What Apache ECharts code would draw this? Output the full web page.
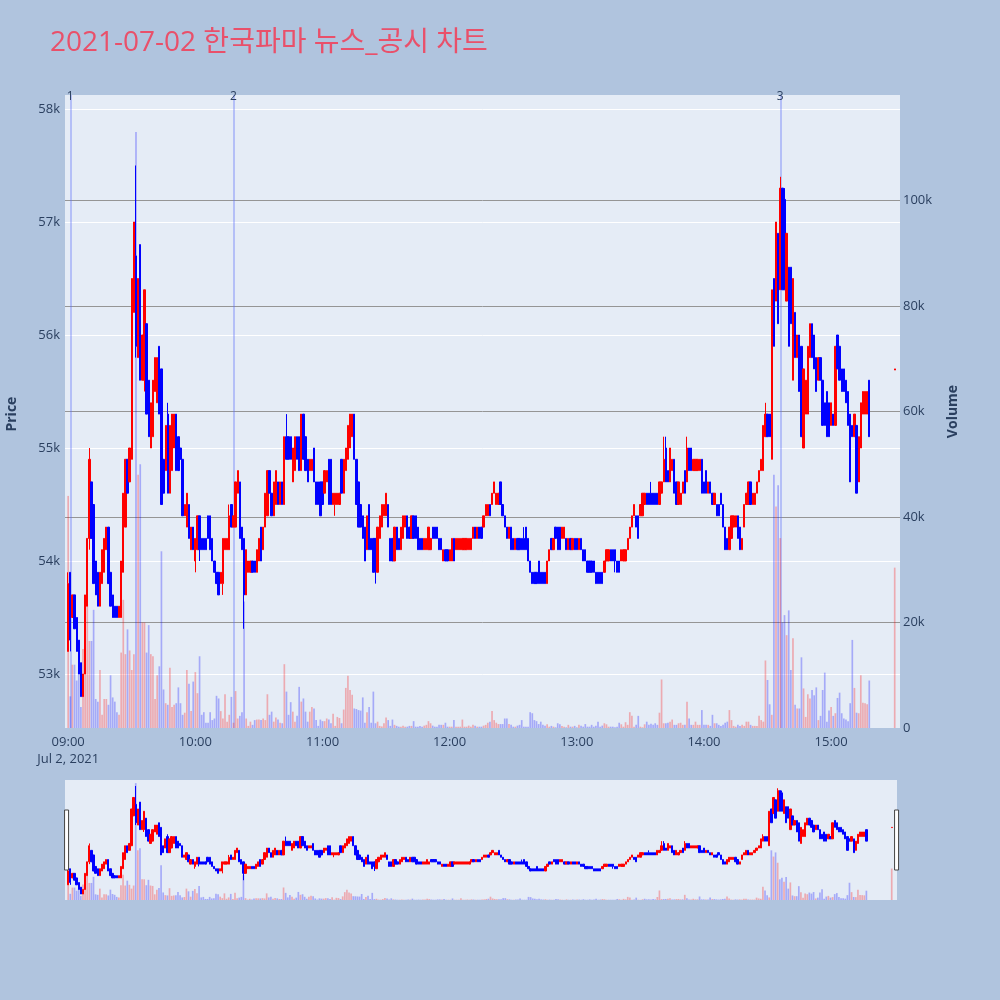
<!DOCTYPE html>
<html>
<head>
<meta charset="utf-8">
<title>2021-07-02 한국파마 뉴스_공시 차트</title>
<script src="https://cdn.jsdelivr.net/npm/echarts@6.0.0/dist/echarts.min.js"></script>
<style>
  html, body { margin: 0; padding: 0; background: #b0c4de; }
  #chart { width: 1000px; height: 1000px; }
</style>
</head>
<body>
<div id="chart"></div>
<script>
// one entry per minute from 09:00, prices in units of 100 KRW (null = no trade)
var opens = [
  532,539,535,537,535,533,531,528,530,536, 542,547,545,540,539,536,538,539,541,543,
  539,537,536,536,535,535,539,543,549,547, 549,562,567,558,568,556,556,561,556,550,
  551,555,554,559,557,549,548,553,546,548, 550,553,551,550,549,544,543,545,541,543,
  540,541,544,542,542,542,544,544,542,540, 539,539,538,538,541,541,541,545,543,543,
  546,547,543,542,537,539,539,540,540,539, 540,543,541,543,544,548,546,544,545,547,
  545,547,545,551,551,551,547,548,551,551, 548,553,551,549,548,548,550,547,547,547,
  547,546,547,549,549,545,545,545,545,549, 546,548,549,550,551,553,549,547,545,544,
  543,541,545,542,542,542,539,542,543,544, 544,545,542,542,540,543,542,541,542,543,
  544,543,542,544,544,543,542,542,541,541, 541,541,543,543,543,542,542,540,541,541,
  540,540,542,541,541,541,541,541,541,541, 541,542,543,542,543,543,543,544,544,545,
  545,546,545,545,547,545,544,543,542,543, 542,541,542,542,542,542,543,542,540,539,
  539,539,540,539,539,539,538,540,542,541, 543,543,543,542,542,542,541,542,541,542,
  542,541,542,541,541,540,540,540,540,539, 539,539,539,539,540,540,541,541,541,540,
  540,540,540,540,541,542,543,544,544,544, 544,544,545,546,546,546,546,546,546,545,
  546,547,550,548,547,548,549,547,545,545, 546,548,547,550,550,548,548,548,548,549,
  547,548,546,547,546,545,545,545,546,545, 543,542,541,542,543,543,544,543,541,543,
  545,545,547,545,545,546,547,548,548,551, 553,553,549,565,563,569,564,573,572,563,
  566,566,556,562,558,560,559,550,553,553, 558,561,560,558,556,558,556,554,555,554,
  552,553,552,560,559,557,557,556,555,553, 552,551,552,547,550,553,553,553,556,
  null,null,null,null,null,null,null,null,null,null,null,
  556.9
];
var closes = [
  538,533,537,534,532,530,528,530,537,542, 549,542,538,537,536,539,541,542,543,538,
  536,535,535,535,536,540,546,549,546,550, 565,570,559,565,556,560,564,553,551,554,
  556,558,558,553,545,546,552,546,552,553, 553,548,548,549,544,545,546,542,543,541,
  542,544,541,541,541,541,542,541,540,539, 538,537,539,542,542,542,544,543,544,547,
  548,542,541,537,541,540,540,539,539,541, 542,540,543,546,548,546,544,547,548,545,
  547,545,551,549,549,549,550,551,549,548, 553,549,548,547,549,549,547,545,545,544,
  545,548,548,545,545,546,546,546,546,546, 549,550,552,553,553,549,545,543,543,542,
  540,544,541,541,539,540,543,544,545,545, 546,543,540,540,543,541,541,543,544,544,
  542,542,544,542,542,541,541,541,542,542, 543,542,542,542,542,541,541,541,540,540,
  541,542,540,542,542,542,542,542,542,542, 542,543,542,543,542,542,544,545,545,544,
  546,547,546,546,545,544,543,542,543,541, 541,542,541,541,541,541,541,540,539,538,
  538,538,538,538,538,538,540,541,541,542, 542,541,541,543,543,541,542,541,542,541,
  541,542,541,540,540,539,539,539,539,538, 538,538,538,540,541,541,540,540,540,539,
  539,541,541,541,542,543,544,545,543,542, 545,546,546,545,545,545,545,545,545,547,
  547,549,547,547,550,549,546,545,547,546, 547,546,550,548,548,549,549,549,549,546,
  546,546,547,546,545,546,544,544,545,543, 541,541,543,544,544,544,542,541,542,545,
  546,547,545,546,546,547,548,549,552,553, 551,551,564,559,570,561,573,564,564,569,
  559,561,565,558,560,555,551,557,556,559, 561,558,557,555,558,556,552,552,551,551,
  554,552,559,557,556,555,555,554,552,547, 551,553,546,551,554,555,555,555,551,
  null,null,null,null,null,null,null,null,null,null,null,
  557
];
var lows = [
  532,532,535,534,532,530,528,528,530,536, 541,542,538,537,536,536,538,539,541,538,
  536,535,535,535,535,535,539,543,546,547, 549,562,558,558,556,556,555,553,551,550,
  551,555,554,553,545,546,548,546,546,548, 550,548,548,549,544,544,543,542,541,541,
  539,541,540,541,541,541,542,541,540,539, 538,537,538,537,541,541,541,543,543,543,
  546,542,541,534,537,539,539,539,539,539, 540,540,541,543,544,546,544,544,545,545,
  545,545,545,549,549,549,547,548,549,548, 548,549,548,547,548,548,547,545,545,544,
  545,546,547,545,545,545,544,545,545,546, 546,548,549,550,551,549,545,543,543,542,
  540,541,541,541,539,538,539,542,543,544, 544,543,540,540,540,541,541,541,542,543,
  542,542,542,542,542,541,541,541,541,541, 541,541,542,542,542,541,541,540,540,540,
  540,540,540,541,541,541,541,541,541,541, 541,542,542,542,542,542,543,544,544,544,
  545,546,545,545,545,544,543,542,542,541, 541,541,541,541,541,541,541,540,539,538,
  538,538,538,538,538,538,538,540,541,541, 542,541,541,542,542,541,541,541,541,541,
  541,541,541,540,540,539,539,539,539,538, 538,538,538,539,540,540,540,540,539,539,
  539,540,540,540,541,542,543,544,543,542, 544,544,545,545,545,545,545,545,545,545,
  546,547,547,547,547,548,546,545,545,545, 546,546,547,548,548,548,548,548,548,546,
  546,546,546,546,545,545,544,544,545,543, 541,541,541,542,543,543,542,541,541,543,
  545,545,545,545,545,546,547,548,548,551, 551,551,549,559,563,561,564,564,564,563,
  559,561,556,558,558,555,551,550,553,553, 558,558,557,555,556,556,552,552,551,551,
  552,552,552,557,556,555,555,554,552,547, 551,551,546,547,550,553,553,553,551,
  null,null,null,null,null,null,null,null,null,null,null,
  556.9
];
var highs = [
  539,539,537,537,535,533,531,530,537,542, 550,547,545,540,539,539,541,542,543,543,
  539,537,536,536,536,540,546,549,549,550, 565,570,575,565,568,560,564,561,556,554,
  556,558,558,559,557,549,552,554,552,553, 553,553,551,550,549,545,546,545,543,543,
  542,544,544,542,542,542,544,544,542,540, 539,539,539,542,542,542,545,545,544,547,
  548,547,543,542,541,540,540,540,540,541, 542,543,543,546,548,548,546,547,548,547,
  547,547,551,553,551,551,550,551,551,551, 553,553,551,549,549,549,550,547,547,547,
  547,548,548,549,549,546,546,546,546,549, 549,550,552,553,553,553,549,547,545,544,
  543,544,545,542,542,542,543,544,545,545, 546,545,542,542,543,543,542,543,544,544,
  544,543,544,544,544,543,542,542,542,542, 543,542,543,543,543,542,542,541,541,541,
  541,542,542,542,542,542,542,542,542,542, 542,543,543,543,543,543,544,545,545,545,
  546,547,546,546,547,545,544,543,543,543, 542,542,542,542,542,543,543,542,540,539,
  539,539,540,539,539,539,540,541,542,542, 543,543,543,543,543,542,542,542,542,542,
  542,542,542,541,541,540,540,540,540,539, 539,539,539,540,541,541,541,541,541,540,
  540,541,541,541,542,543,544,545,544,544, 545,546,546,546,546,547,546,546,546,547,
  547,551,551,548,550,549,549,547,547,546, 547,548,551,550,550,549,549,549,549,549,
  547,548,547,547,546,546,545,545,546,545, 543,542,543,544,544,544,544,543,542,545,
  546,547,547,546,546,547,548,549,552,554, 553,553,564,565,570,569,574,573,573,569,
  566,566,565,562,560,560,559,557,556,559, 561,561,560,558,558,558,556,554,555,554,
  554,553,559,560,559,557,557,556,555,553, 552,553,552,551,554,555,555,555,556,
  null,null,null,null,null,null,null,null,null,null,null,
  557
];
// traded volume per minute, thousand shares
var volumes = [
  44,6,12,12,9,10.6,4,15,16,23.5, 16.5,16.5,22.4,5.5,5,11,2.5,5.5,5.5,4.4,
  10,5.8,5,3,2.5,14.3,24.3,14,18.7,14.7, 11,14,113,48,50,20,20,14.3,19.5,14,
  13.6,5.5,10,11.7,33.5,7.3,4.7,4.4,11.4,4, 4.4,4.7,7.7,4.7,2.5,2.9,11,8.4,3.2,8.8,
  10.6,6.6,13.6,2.5,3,1,1,3,1.5,1.8, 6.1,5.6,3.2,1.8,6.4,1.2,2.5,5.9,1,7,
  1.8,2.3,3,24,1.8,0.4,1.2,0.6,1.5,1.6, 1.6,1.5,1.8,1.5,6.4,2.5,3.1,1.2,2,1.6,
  1,0.9,12.1,6.9,2.5,4.9,3.1,1.2,2.3,7.8, 5,5.6,3.1,1.2,3.1,4,3.7,1.5,0.4,1.6,
  1.3,1.3,1.8,1.6,0.9,2.7,0.4,2.1,1.9,0.9, 3.5,7.6,9.9,7.2,6.3,3.7,3.6,3.4,3.3,5.8,
  1,3,4,1,6.9,0.9,1.2,0.4,0.3,0.9, 2,1.5,0.4,1.6,0.6,0.4,0.25,0.25,0.45,0.25,
  0.25,0.4,0.4,1.3,0.25,0.25,0.4,0.25,0.45,0.6, 1.3,0.9,0.45,0.25,0.25,0.6,0.6,0.6,1.0,0.25,
  0.25,0.25,1.5,0.25,0.25,0.25,1.6,0.25,0.25,0.45, 0.25,0.6,0.45,0.25,0.25,0.25,0.45,0.6,1.0,1.2,
  3.2,1.5,1.0,0.75,0.75,0.75,1.8,1.8,0.75,0.6, 0.25,0.25,0.45,0.6,1.5,0.25,0.25,0.25,3,2.8,
  1.5,1.3,0.75,1.2,0.6,0.45,0.7,0.25,0.4,0.25, 0.13,0.9,0.7,0.4,0.25,0.13,0.6,0.25,0.25,0.4,
  0.13,0.6,0.45,0.25,0.75,0.25,0.25,0.6,0.25,0.45, 1.2,0.25,0.45,0.9,0.7,0.25,0.25,0.25,0.13,0.25,
  1.0,0.7,0.25,1.1,0.6,3,2.3,0.25,0.6,2.3, 0.25,0.13,0.7,1.2,0.6,0.8,0.6,0.9,0.6,2.9,
  9.2,0.9,0.9,1,1.2,1.6,0.6,0.6,0.9,1, 0.6,0.6,5,1.8,0.6,0.6,1.2,0.6,0.6,3.4,
  0.6,0.6,0.6,0.4,2.5,0.9,0.9,0.6,0.4,0.6, 1,1.2,3.4,1.5,0.4,0.25,0.6,0.4,0.6,0.4,
  1.2,1.2,0.6,0.4,0.4,0.4,2.3,1.5,1.2,12.8, 9.1,4.5,2.5,48,42,46,36,20,21.4,17.6,
  22.3,11,17,4.4,3.7,3.7,13.4,7.5,2.1,6.4, 5.6,7.2,6.2,7.7,1.5,2.3,7.2,10.5,1.2,3.3,
  4,2.3,2.8,5.7,6.7,2.8,1.8,1.6,1.3,4.7, 16.7,7.6,2.9,2.8,10,4.8,4.7,4.5,9,
  null,null,null,null,null,null,null,null,null,null,null,
  30.4
];
// news / disclosure markers
var newsTimes = ['09:01', '10:18', '14:36'];
var newsLabels = ['1', '2', '3'];

var UP = '#ff0000', DOWN = '#0000ff';
var UP_VOL = 'rgba(255,0,0,0.28)', DOWN_VOL = 'rgba(0,0,255,0.28)';
var FONT = '"Open Sans", "Noto Sans CJK KR", sans-serif';
var TEXT = '#2a3f5f';

function pad(n) { return (n < 10 ? '0' : '') + n; }

var categories = [];
for (var t = 8 * 60 + 59; t <= 15 * 60 + 32; t++) {
  categories.push(pad(Math.floor(t / 60)) + ':' + pad(t % 60));
}
var first = categories.indexOf('09:00');

var candleData = [], volumeData = [];
for (var i = 0; i < categories.length; i++) {
  var m = i - first;
  if (m < 0 || m >= opens.length || opens[m] == null) {
    candleData.push('-');
    volumeData.push('-');
    continue;
  }
  var up = closes[m] >= opens[m];
  candleData.push([opens[m] * 100, closes[m] * 100, lows[m] * 100, highs[m] * 100]);
  volumeData.push({ value: volumes[m] * 1000, itemStyle: { color: up ? UP_VOL : DOWN_VOL } });
}

var myChart = echarts.init(document.getElementById('chart'));

var option = {
  animation: false,
  backgroundColor: '#b0c4de',
  title: {
    text: '2021-07-02 한국파마 뉴스_공시 차트',
    left: 50,
    top: 29,
    padding: 0,
    textStyle: { fontSize: 28, fontWeight: 'normal', color: '#e9506a', fontFamily: FONT }
  },
  grid: [
    // price
    { left: 65, right: 100, top: 97.7, bottom: 269.5, outerBoundsMode: 'none' },
    // volume + plot background
    { left: 65, right: 100, top: 95, bottom: 272, show: true, backgroundColor: '#e5ecf6',
      borderWidth: 0, outerBoundsMode: 'none' },
    // range slider preview
    { left: 65, right: 103, top: 780, height: 120, show: true, backgroundColor: '#e5ecf6',
      borderWidth: 0, outerBoundsMode: 'none' }
  ],
  xAxis: [
    { type: 'category', gridIndex: 0, data: categories, show: false },
    {
      type: 'category', gridIndex: 1, data: categories,
      axisLine: { show: false }, axisTick: { show: false }, splitLine: { show: false },
      axisLabel: {
        color: TEXT, fontSize: 13, fontFamily: FONT, margin: 6, lineHeight: 17,
        interval: function (index, value) {
          return /:00$/.test(value) && value >= '09:00' && value <= '15:00';
        },
        formatter: function (value) {
          return value === '09:00' ? value + '\nJul 2, 2021' : value;
        }
      }
    },
    { type: 'category', gridIndex: 2, data: categories, show: false }
  ],
  yAxis: [
    {
      type: 'value', gridIndex: 0, position: 'left',
      min: 52500, max: 58100, interval: 500,
      name: 'Price', nameLocation: 'middle', nameGap: 46,
      nameTextStyle: { color: TEXT, fontSize: 14, fontWeight: 'bold', fontFamily: FONT },
      axisLine: { show: false }, axisTick: { show: false },
      axisLabel: {
        color: TEXT, fontSize: 13, fontFamily: FONT, margin: 5,
        formatter: function (v) { return v % 1000 === 0 ? (v / 1000) + 'k' : ''; }
      },
      splitLine: { show: true, lineStyle: { color: ['rgba(0,0,0,0)', '#ffffff'], width: 1 } }
    },
    {
      type: 'value', gridIndex: 1, position: 'right',
      min: 0, max: 120000, interval: 20000,
      name: 'Volume', nameLocation: 'middle', nameGap: 46,
      nameTextStyle: { color: TEXT, fontSize: 14, fontWeight: 'bold', fontFamily: FONT },
      axisLine: { show: false }, axisTick: { show: false },
      axisLabel: {
        color: TEXT, fontSize: 13, fontFamily: FONT, margin: 3,
        formatter: function (v) { return v === 0 ? '0' : (v >= 120000 ? '' : (v / 1000) + 'k'); }
      },
      splitLine: {
        show: true,
        lineStyle: {
          color: ['rgba(0,0,0,0)', '#959595', '#959595', '#959595', '#959595', '#959595', 'rgba(0,0,0,0)'],
          width: 1
        }
      }
    },
    { type: 'value', gridIndex: 2, min: 52540, max: 57760, show: false },
    { type: 'value', gridIndex: 2, min: 0, max: 116000, show: false }
  ],
  dataZoom: [{
    type: 'slider',
    xAxisIndex: [0, 1],
    filterMode: 'none',
    start: 0, end: 100,
    left: 65, right: 103, top: 780, height: 120,
    showDataShadow: false, showDetail: false, brushSelect: false,
    backgroundColor: 'rgba(0,0,0,0)', fillerColor: 'rgba(0,0,0,0)', borderColor: 'rgba(0,0,0,0)',
    handleIcon: 'path://M0,0H4V60H0Z',
    handleSize: '50%',
    handleStyle: { color: '#ffffff', borderColor: '#444444', borderWidth: 1 },
    moveHandleSize: 0,
    emphasis: { handleStyle: { color: '#ffffff', borderColor: '#444444', borderWidth: 1 } }
  }],
  series: [
    {
      name: 'Volume', type: 'bar', xAxisIndex: 1, yAxisIndex: 1,
      data: volumeData, barWidth: '80%',
      markLine: {
        silent: true, symbol: ['none', 'none'], z: 1,
        lineStyle: { color: 'rgba(90,110,250,0.35)', width: 2, type: 'solid' },
        label: { show: true, position: 'end', distance: -8, formatter: '{b}',
          color: TEXT, fontSize: 12, fontFamily: FONT },
        data: newsTimes.map(function (t, k) { return { xAxis: t, name: newsLabels[k] }; })
      }
    },
    {
      name: 'Price', type: 'candlestick', xAxisIndex: 0, yAxisIndex: 0,
      data: candleData, barWidth: '85%',
      itemStyle: { color: UP, color0: DOWN, borderColor: UP, borderColor0: DOWN, borderWidth: 1 }
    },
    {
      type: 'bar', xAxisIndex: 2, yAxisIndex: 3, data: volumeData, barWidth: '80%', silent: true
    },
    {
      type: 'candlestick', xAxisIndex: 2, yAxisIndex: 2, data: candleData, barWidth: '85%', silent: true,
      itemStyle: { color: UP, color0: DOWN, borderColor: UP, borderColor0: DOWN, borderWidth: 1 }
    }
  ]
};

myChart.setOption(option);
</script>
</body>
</html>
